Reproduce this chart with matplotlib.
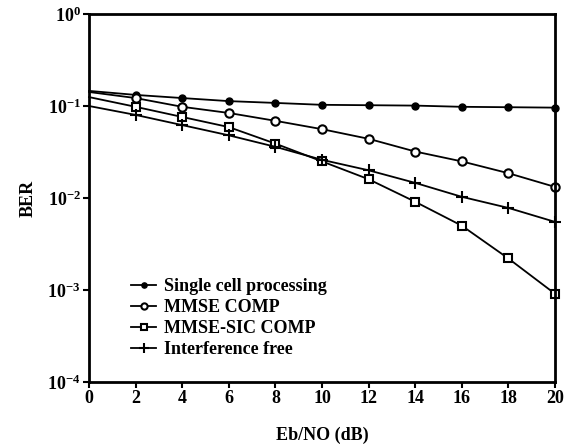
import matplotlib.pyplot as plt
import numpy as np

plt.rcParams['font.family'] = ['Liberation Serif', 'DejaVu Serif']
plt.rcParams['font.weight'] = 'bold'
plt.rcParams['axes.labelweight'] = 'bold'
plt.rcParams['mathtext.fontset'] = 'stix'
plt.rcParams['mathtext.default'] = 'bf'

snr = [0, 2, 4, 6, 8, 10, 12, 14, 16, 18, 20]
single = [0.146, 0.132, 0.122, 0.113, 0.108, 0.103, 0.102, 0.101, 0.098, 0.097, 0.096]
mmse = [0.142, 0.122, 0.098, 0.084, 0.069, 0.056, 0.044, 0.032, 0.025, 0.0186, 0.0132]
mmse_sic = [0.125, 0.098, 0.076, 0.059, 0.039, 0.025, 0.016, 0.0091, 0.005, 0.0022, 0.00091]
intf_free = [0.1, 0.08, 0.062, 0.048, 0.036, 0.026, 0.020, 0.0146, 0.0103, 0.0078, 0.0055]

fig = plt.figure(figsize=(5.66, 4.47), dpi=100)
ax = fig.add_axes([89/566, 65/447, 466/566, 368/447])

mk = list(range(1, len(snr)))
ax.semilogy(snr, single, color='black', lw=1.3, marker='o', ms=5, mfc='black', mec='black',
            markevery=mk, label='Single cell processing', clip_on=False)
ax.semilogy(snr, mmse, color='black', lw=1.3, marker='o', ms=6, mfc='white', mec='black', mew=1.5,
            markevery=mk, label='MMSE COMP', clip_on=False)
ax.semilogy(snr, mmse_sic, color='black', lw=1.3, marker='s', ms=6, mfc='white', mec='black', mew=1.5,
            markevery=mk, label='MMSE-SIC COMP', clip_on=False)
ax.semilogy(snr, intf_free, color='black', lw=1.3, marker='+', ms=9, mew=1.5,
            markevery=mk, label='Interference free', clip_on=False)

ax.set_xlim(0, 20)
ax.set_ylim(1e-4, 1)
ax.set_xticks(np.arange(0, 21, 2))
ax.set_yticks([1e-4, 1e-3, 1e-2, 1e-1, 1])
ax.minorticks_off()
ax.tick_params(direction='out', length=4, width=1.5, labelsize=13, pad=2)
for s in ax.spines.values():
    s.set_linewidth(2)

ax.set_xlabel('Eb/NO (dB)', fontsize=13, labelpad=14)
ax.set_ylabel('BER', fontsize=13, labelpad=8)

ax.legend(loc='lower left', bbox_to_anchor=(0.075, 0.045), frameon=False,
          prop={'size': 13, 'weight': 'bold'}, markerscale=0.75,
          handlelength=1.4, handletextpad=0.4, labelspacing=0.22, borderaxespad=0)

plt.savefig('out.png', dpi=100)
